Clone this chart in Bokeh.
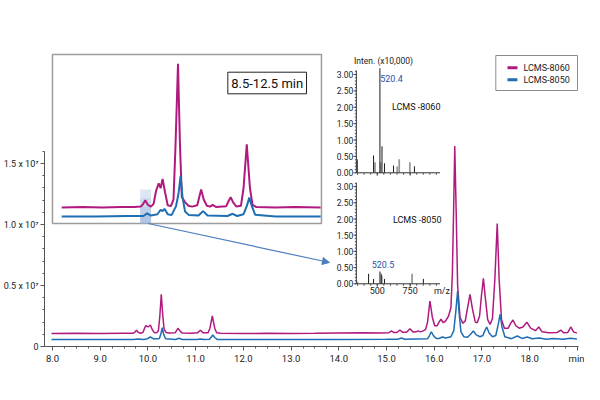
from bokeh.plotting import figure
from bokeh.models import Range1d, FixedTicker, Arrow, NormalHead
from bokeh.core.properties import value
from bokeh.embed import file_html
from bokeh.resources import INLINE

# ---------------- data (intensity in units of 10^7) ----------------
t_8060 = [7.98, 8.5, 9.0, 9.5, 9.68, 9.72, 9.76, 9.80, 9.86, 9.90, 9.93, 9.96, 10.00, 10.05, 10.09,
          10.13, 10.18, 10.22, 10.25, 10.28, 10.31, 10.34, 10.38, 10.45, 10.57, 10.60, 10.63, 10.67,
          10.72, 10.90, 11.04, 11.10, 11.16, 11.26, 11.30, 11.35, 11.40, 11.44, 11.52, 12.0, 12.5,
          13.0, 13.5, 14.0, 14.5, 14.9, 15.05, 15.10, 15.16, 15.22, 15.28, 15.34, 15.42, 15.49,
          15.56, 15.62, 15.66, 15.71, 15.77, 15.82, 15.86, 15.91, 15.96, 16.01, 16.06, 16.10, 16.14,
          16.19, 16.24, 16.30, 16.35, 16.38, 16.41, 16.43, 16.46, 16.49, 16.54, 16.60, 16.65, 16.70,
          16.75, 16.80, 16.86, 16.90, 16.95, 16.99, 17.03, 17.07, 17.12, 17.17, 17.22, 17.27, 17.32,
          17.36, 17.41, 17.47, 17.55, 17.60, 17.65, 17.71, 17.78, 17.86, 17.94, 18.02, 18.12, 18.19,
          18.26, 18.40, 18.58, 18.65, 18.71, 18.80, 18.86, 18.92, 18.99]
i_8060 = [0.107, 0.108, 0.107, 0.108, 0.108, 0.115, 0.133, 0.115, 0.109, 0.118, 0.150, 0.172, 0.160,
          0.176, 0.140, 0.115, 0.112, 0.130, 0.250, 0.428, 0.260, 0.140, 0.115, 0.110, 0.112, 0.130,
          0.149, 0.128, 0.110, 0.108, 0.112, 0.133, 0.112, 0.112, 0.150, 0.250, 0.150, 0.113, 0.108,
          0.107, 0.108, 0.107, 0.108, 0.110, 0.112, 0.110, 0.113, 0.127, 0.114, 0.115, 0.135, 0.116,
          0.116, 0.146, 0.118, 0.120, 0.128, 0.120, 0.128, 0.140, 0.200, 0.373, 0.240, 0.170, 0.170,
          0.200, 0.223, 0.195, 0.210, 0.250, 0.320, 0.600, 1.200, 1.643, 1.100, 0.500, 0.240, 0.190,
          0.210, 0.320, 0.428, 0.310, 0.200, 0.195, 0.250, 0.420, 0.559, 0.400, 0.220, 0.180, 0.230,
          0.550, 1.007, 0.550, 0.220, 0.150, 0.150, 0.190, 0.217, 0.170, 0.150, 0.160, 0.200, 0.150,
          0.130, 0.160, 0.120, 0.112, 0.115, 0.135, 0.113, 0.115, 0.160, 0.120, 0.110]

t_8050 = [7.98, 9.0, 9.7, 9.8, 9.9, 9.98, 10.05, 10.12, 10.24, 10.27, 10.30, 10.33, 10.37, 10.58,
          10.65, 10.72, 11.03, 11.10, 11.17, 11.29, 11.33, 11.36, 11.40, 11.45, 12.0, 13.0, 14.0,
          15.0, 15.24, 15.31, 15.38, 15.86, 15.90, 15.94, 15.98, 16.04, 16.10, 16.17, 16.24, 16.35,
          16.41, 16.45, 16.49, 16.52, 16.56, 16.62, 16.70, 16.76, 16.82, 16.88, 16.96, 17.02, 17.06,
          17.10, 17.15, 17.22, 17.29, 17.34, 17.38, 17.42, 17.48, 17.62, 17.74, 17.84, 17.95, 18.05,
          18.20, 18.35, 18.50, 18.70, 18.85, 18.99]
i_8050 = [0.057, 0.057, 0.058, 0.062, 0.058, 0.062, 0.078, 0.062, 0.065, 0.100, 0.154, 0.100, 0.064,
          0.058, 0.067, 0.058, 0.057, 0.062, 0.057, 0.059, 0.078, 0.094, 0.074, 0.058, 0.057, 0.058,
          0.058, 0.059, 0.060, 0.070, 0.060, 0.063, 0.090, 0.121, 0.090, 0.065, 0.066, 0.078, 0.070,
          0.080, 0.130, 0.280, 0.455, 0.280, 0.120, 0.080, 0.075, 0.100, 0.127, 0.095, 0.080, 0.090,
          0.130, 0.160, 0.110, 0.080, 0.090, 0.180, 0.264, 0.160, 0.080, 0.064, 0.086, 0.066, 0.078,
          0.063, 0.070, 0.060, 0.066, 0.060, 0.068, 0.062]

# inset (8.5-12.5 min), relative intensity on the inset's own scale
ins_t_8060 = [8.47, 8.8, 9.1, 9.4, 9.6, 9.70, 9.73, 9.77, 9.81, 9.86, 9.90, 9.94, 9.98, 10.01, 10.04,
              10.08, 10.12, 10.17, 10.21, 10.24, 10.28, 10.31, 10.34, 10.39, 10.44, 10.50, 10.58,
              10.61, 10.64, 10.68, 10.73, 10.78, 10.82, 10.87, 11.03, 11.07, 11.10, 11.14, 11.19,
              11.26, 11.30, 11.35, 11.40, 11.44, 11.50, 11.8, 12.1, 12.5]
ins_i_8060 = [0.107, 0.108, 0.107, 0.108, 0.108, 0.109, 0.113, 0.123, 0.113, 0.109, 0.115, 0.145,
              0.161, 0.150, 0.171, 0.140, 0.112, 0.110, 0.125, 0.240, 0.428, 0.250, 0.130, 0.119,
              0.111, 0.109, 0.112, 0.130, 0.147, 0.125, 0.111, 0.109, 0.113, 0.108, 0.110, 0.122,
              0.130, 0.118, 0.109, 0.111, 0.150, 0.248, 0.150, 0.113, 0.108, 0.107, 0.108, 0.107]
ins_t_8050 = [8.47, 9.0, 9.5, 9.74, 9.80, 9.86, 9.96, 10.01, 10.04, 10.07, 10.12, 10.18, 10.25, 10.29,
              10.32, 10.35, 10.39, 10.45, 10.60, 10.67, 10.74, 11.05, 11.13, 11.20, 11.30, 11.35,
              11.39, 11.43, 11.48, 11.8, 12.2, 12.5]
ins_i_8050 = [0.087, 0.087, 0.088, 0.088, 0.094, 0.089, 0.092, 0.102, 0.099, 0.104, 0.092, 0.090,
              0.110, 0.140, 0.177, 0.130, 0.098, 0.090, 0.089, 0.099, 0.089, 0.088, 0.093, 0.088,
              0.092, 0.110, 0.129, 0.110, 0.091, 0.087, 0.087, 0.087]

# mass spectra (intensity x10,000)
ms8060_main_mz = [348, 472, 520.4, 536, 555, 624, 783]
ms8060_main_int = [0.41, 0.53, 3.19, 0.81, 0.29, 0.22, 0.20]
ms8060_minor_mz = [483, 525, 652, 667, 748]
ms8060_minor_int = [0.32, 0.32, 0.19, 0.41, 0.32]
ms8050_main_mz = [434, 472, 520.5, 530, 555, 851]
ms8050_main_int = [0.31, 0.15, 0.38, 0.31, 0.15, 0.15]
ms8050_minor_mz = [348, 535, 765]
ms8050_minor_int = [0.07, 0.25, 0.31]

series_names = ["LCMS-8060", "LCMS-8050"]
x_ticks = [8, 9, 10, 11, 12, 13, 14, 15, 16, 17, 18, 19]
x_tick_labels = ["8.0", "9.0", "10.0", "11.0", "12.0", "13.0", "14.0", "15.0", "16.0", "17.0", "18.0", "min"]
y_ticks = [0, 0.5, 1.0, 1.5]
y_tick_labels = ["0", "0.5 x 10\u2077", "1.0 x 10\u2077", "1.5 x 10\u2077"]
ms_y_ticks = [0, 0.5, 1.0, 1.5, 2.0, 2.5, 3.0]
ms_y_labels = ["0.00", "0.50", "1.00", "1.50", "2.00", "2.50", "3.00"]
ms_x_ticks = [500, 750]

# ---------------- layout (picture pixels) ----------------
W, H = 584, 384
FL, FR, FT, FB = 42, 578, 18, 346
X8, PXMIN, PXU = 50.0, 47.9, 122.0
MAG, BLU = "#B0197E", "#1F6DB2"
FONT = value("Roboto")
TXT = "#222222"

def mx(px): return 8 + (px - X8) / PXMIN
def my(py): return (FB - py) / PXU
# inset scale: 10.28 min at px 176, 64.5 px/min ; 0.107 at py 207, 448 px/unit
def ix(px): return 10.28 + (px - 176) / 64.5
def iy(py): return 0.107 + (207 - py) / 448.0
# spectra: m/z 500 at px 376, 7.58 m/z per px ; top zero at 172.3 (32.77 px/unit), bottom zero at 283.3 (32.4 px/unit)
def mz(px): return 500 + (px - 376) * 7.58
def ty(py): return (172.3 - py) / 32.77
def by(py): return (283.3 - py) / 32.4

p = figure(width=W, height=H, output_backend="svg", toolbar_location=None,
           x_range=Range1d(mx(FL), mx(FR)), y_range=Range1d(my(FB), my(FT)),
           min_border_left=FL, min_border_right=W - FR,
           min_border_top=FT, min_border_bottom=H - FB)
p.outline_line_color = None
p.xgrid.visible = False
p.ygrid.visible = False
p.background_fill_color = "white"
p.border_fill_color = "white"

p.extra_x_ranges = {"ins_x": Range1d(ix(FL), ix(FR)), "mz": Range1d(mz(FL), mz(FR))}
p.extra_y_ranges = {"ins_y": Range1d(iy(FB), iy(FT)),
                    "ms_top": Range1d(ty(FB), ty(FT)), "ms_bot": Range1d(by(FB), by(FT))}

AX = "#555555"
xa = p.xaxis[0]
xa.ticker = FixedTicker(ticks=x_ticks, minor_ticks=[8 + k * 0.25 for k in range(45)])
xa.major_label_overrides = {t: s for t, s in zip(x_ticks, x_tick_labels)}
xa.axis_line_color = AX
xa.major_tick_line_color = AX
xa.minor_tick_line_color = AX
xa.major_tick_in = 0
xa.major_tick_out = 4
xa.minor_tick_in = 0
xa.minor_tick_out = 2
xa.major_label_standoff = 2
xa.major_label_text_font = "Roboto"
xa.major_label_text_font_size = "9.5px"
xa.major_label_text_color = TXT

ya = p.yaxis[0]
ya.bounds = (0, 1.6)
ya.ticker = FixedTicker(ticks=y_ticks, minor_ticks=[k * 0.1 for k in range(17)])
ya.major_label_overrides = {t: s for t, s in zip(y_ticks, y_tick_labels)}
ya.axis_line_color = AX
ya.major_tick_line_color = AX
ya.minor_tick_line_color = AX
ya.major_tick_in = 0
ya.major_tick_out = 4
ya.minor_tick_in = 0
ya.minor_tick_out = 2
ya.major_label_standoff = 2
ya.major_label_text_font = "Roboto"
ya.major_label_text_font_size = "9px"
ya.major_label_text_color = TXT

# main chromatograms
p.line(t_8060, i_8060, line_color=MAG, line_width=1.5)
p.line(t_8050, i_8050, line_color=BLU, line_width=1.5)

# ---- inset ----
IX, IY = "ins_x", "ins_y"
p.quad(left=[ix(50)], right=[ix(320)], top=[iy(54)], bottom=[iy(223)], x_range_name=IX, y_range_name=IY,
       fill_color="white", line_color="#9c9c9c", line_width=1.5)
for k, a in enumerate([0.35, 0.5, 0.65, 0.8]):
    p.quad(left=[ix(138)], right=[ix(149)], top=[iy(189 + k * 8.5)], bottom=[iy(189 + (k + 1) * 8.5)],
           x_range_name=IX, y_range_name=IY, fill_color="#9db6dd", fill_alpha=a, line_color=None)
p.line(ins_t_8060, ins_i_8060, x_range_name=IX, y_range_name=IY, line_color=MAG, line_width=2)
p.line(ins_t_8050, ins_i_8050, x_range_name=IX, y_range_name=IY, line_color=BLU, line_width=2)
p.quad(left=[ix(226)], right=[ix(305)], top=[iy(71.7)], bottom=[iy(93.3)], x_range_name=IX, y_range_name=IY,
       fill_color="white", line_color="#222222", line_width=1)
p.text(x=[(ix(226) + ix(305)) / 2], y=[iy(82.5)], text=["8.5-12.5 min"], x_range_name=IX, y_range_name=IY,
       text_align="center", text_baseline="middle", text_font=FONT, text_font_size="13px", text_color="#111111")

ARC = "#4C7FBF"
p.add_layout(Arrow(end=NormalHead(size=7, fill_color=ARC, line_color=ARC),
                   x_start=mx(146), y_start=my(223), x_end=mx(328), y_end=my(262),
                   line_color=ARC, line_width=1.2))

# ---- mass spectra ----
BLK, GRY = "#1a1a1a", "#9a9a9a"
for rng, main_mz, main_i, min_mz, min_i in [("ms_top", ms8060_main_mz, ms8060_main_int, ms8060_minor_mz, ms8060_minor_int),
                                            ("ms_bot", ms8050_main_mz, ms8050_main_int, ms8050_minor_mz, ms8050_minor_int)]:
    unit = 1 / (32.77 if rng == "ms_top" else 32.4)
    x0, x1 = mz(355), mz(439)
    p.segment(x0=min_mz, y0=[0] * len(min_mz), x1=min_mz, y1=min_i, x_range_name="mz", y_range_name=rng,
              line_color=GRY, line_width=1.8)
    p.segment(x0=main_mz, y0=[0] * len(main_mz), x1=main_mz, y1=main_i, x_range_name="mz", y_range_name=rng,
              line_color=BLK, line_width=1)
    p.segment(x0=[x0, x0], y0=[0, 0], x1=[x0, x1], y1=[3.12, 0], x_range_name="mz", y_range_name=rng,
              line_color="#333333", line_width=1)
    minor = [k * 0.1 for k in range(32)]
    p.segment(x0=[x0 - 1.5 * 7.58] * len(minor), y0=minor, x1=[x0] * len(minor), y1=minor,
              x_range_name="mz", y_range_name=rng, line_color="#333333", line_width=0.8)
    p.segment(x0=[x0 - 3 * 7.58] * len(ms_y_ticks), y0=ms_y_ticks, x1=[x0] * len(ms_y_ticks), y1=ms_y_ticks,
              x_range_name="mz", y_range_name=rng, line_color="#333333", line_width=0.8)
    p.text(x=[mz(352)] * len(ms_y_ticks), y=ms_y_ticks, text=ms_y_labels, x_range_name="mz", y_range_name=rng,
           text_align="right", text_baseline="middle", text_font=FONT, text_font_size="8.5px", text_color=TXT)
    xt = [350 + 50 * k for k in range(13)]
    p.segment(x0=xt, y0=[0] * len(xt), x1=xt, y1=[-2 * unit] * len(xt), x_range_name="mz", y_range_name=rng,
              line_color="#333333", line_width=0.8)
    p.segment(x0=ms_x_ticks, y0=[0, 0], x1=ms_x_ticks, y1=[-3 * unit] * 2, x_range_name="mz", y_range_name=rng,
              line_color="#333333", line_width=0.8)

p.text(x=ms_x_ticks + [mz(441)], y=[by(290)] * 3, text=["500", "750", "m/z"], x_range_name="mz", y_range_name="ms_bot",
       text_align="center", text_baseline="middle", text_font=FONT, text_font_size="9px", text_color=TXT)
p.text(x=[mz(352.7)], y=[ty(60)], text=["Inten. (x10,000)"], x_range_name="mz", y_range_name="ms_top",
       text_align="left", text_baseline="middle", text_font=FONT, text_font_size="8.5px", text_color=TXT)
p.text(x=[mz(379)], y=[ty(77.7)], text=["520.4"], x_range_name="mz", y_range_name="ms_top",
       text_align="left", text_baseline="middle", text_font=FONT, text_font_size="9px", text_color="#2456A6")
p.text(x=[mz(390.7)], y=[ty(106.7)], text=["LCMS -8060"], x_range_name="mz", y_range_name="ms_top",
       text_align="left", text_baseline="middle", text_font=FONT, text_font_size="9px", text_color="#111111")
p.text(x=[mz(381.7)], y=[by(264.3)], text=["520.5"], x_range_name="mz", y_range_name="ms_bot",
       text_align="center", text_baseline="middle", text_font=FONT, text_font_size="9px", text_color="#2456A6")
p.text(x=[mz(391.7)], y=[by(219.3)], text=["LCMS -8050"], x_range_name="mz", y_range_name="ms_bot",
       text_align="left", text_baseline="middle", text_font=FONT, text_font_size="9px", text_color="#111111")

# ---- legend (drawn box) ----
p.quad(left=[mx(495)], right=[mx(577)], top=[my(55)], bottom=[my(90)],
       fill_color="white", line_color="#8c8c8c", line_width=1)
leg_y = [my(67.3), my(79.3)]
p.segment(x0=[mx(506.7)] * 2, y0=leg_y, x1=[mx(516.7)] * 2, y1=leg_y, line_color=[MAG, BLU], line_width=3)
p.text(x=[mx(522.7)] * 2, y=leg_y, text=series_names, text_align="left", text_baseline="middle",
       text_font=FONT, text_font_size="9px", text_color=TXT)

open("out.html", "w").write(file_html(p, INLINE))
